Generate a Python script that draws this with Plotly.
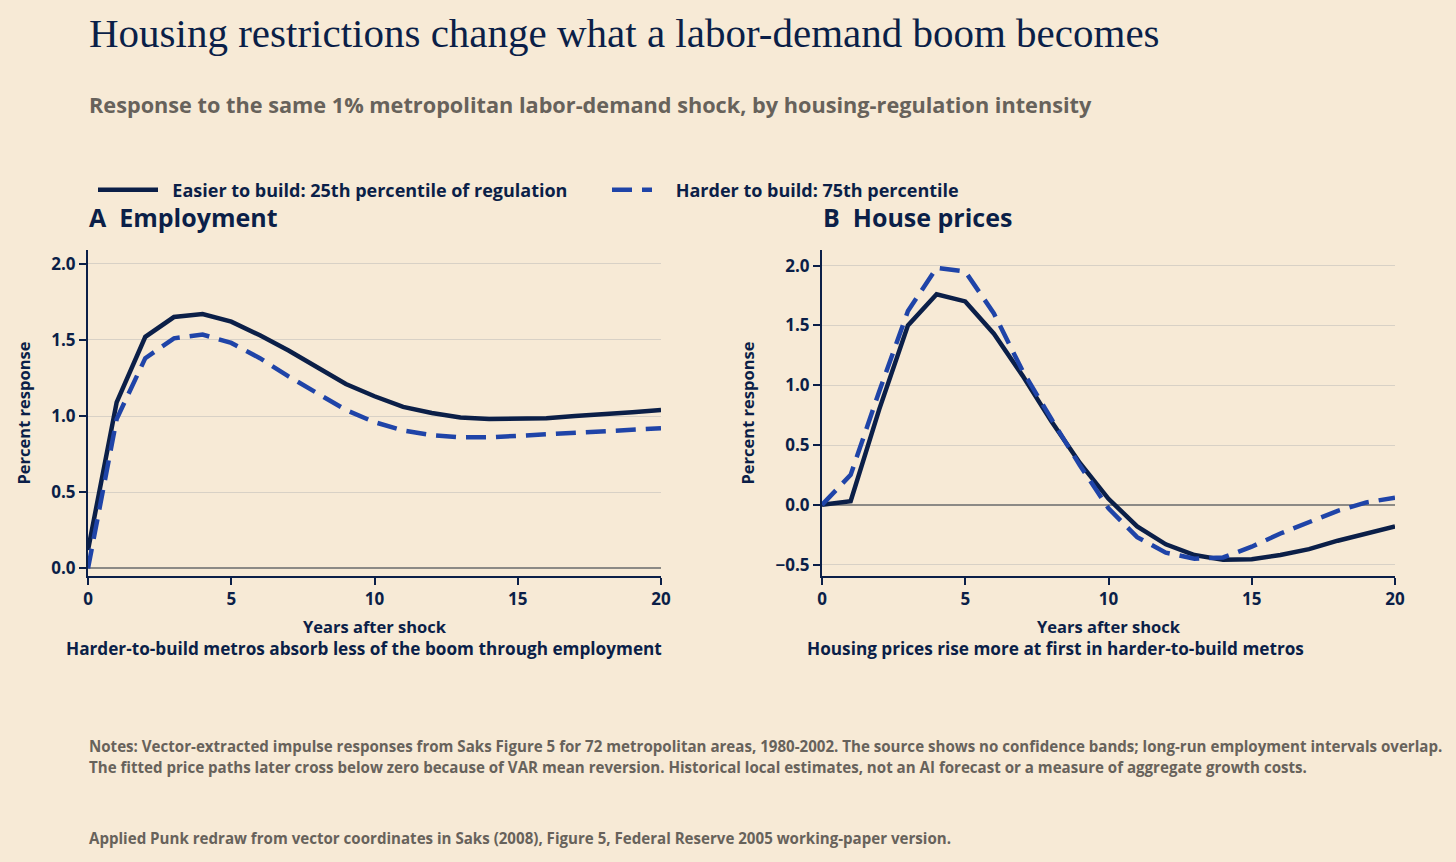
import plotly.graph_objects as go

years = list(range(0, 21))

emp_easier = [0.12, 1.09, 1.52, 1.65, 1.67, 1.62, 1.53, 1.43, 1.32, 1.21, 1.13,
              1.06, 1.02, 0.99, 0.98, 0.98, 0.985, 1.0, 1.01, 1.025, 1.04]
emp_harder = [0.0, 0.98, 1.38, 1.51, 1.535, 1.48, 1.38, 1.26, 1.15, 1.04, 0.96,
              0.905, 0.875, 0.86, 0.86, 0.87, 0.88, 0.895, 0.905, 0.915, 0.92]

price_easier = [0.0, 0.03, 0.8, 1.5, 1.76, 1.70, 1.43, 1.08, 0.7, 0.35, 0.05,
                -0.18, -0.33, -0.42, -0.46, -0.455, -0.42, -0.37, -0.30, -0.24, -0.18]
price_harder = [0.0, 0.25, 0.95, 1.62, 1.98, 1.95, 1.60, 1.12, 0.72, 0.33, -0.03,
                -0.27, -0.40, -0.45, -0.44, -0.35, -0.24, -0.14, -0.05, 0.02, 0.06]

x_ticks = [0, 5, 10, 15, 20]
emp_yticks = [0.0, 0.5, 1.0, 1.5, 2.0]
price_yticks = [-0.5, 0.0, 0.5, 1.0, 1.5, 2.0]

name_easier = "Easier to build: 25th percentile of regulation"
name_harder = "Harder to build: 75th percentile"

BG = "#F7EAD6"
NAVY = "#0B1F48"
BLUE = "#1F44A8"
GRAY = "#67625B"
GRID = "#D8D1C6"
SANS = "'Open Sans', Lato, sans-serif"
SERIF = "'Liberation Serif', 'DejaVu Serif', serif"
DASH = "20px,10px"

W, H = 1456, 862


def xp(px):
    return px / W


def yp(py):
    return 1 - py / H


fig = go.Figure()

fig.add_trace(go.Scatter(x=years, y=emp_easier, mode="lines",
                         name="&nbsp;&nbsp;" + name_easier,
                         line=dict(color=NAVY, width=4.5), xaxis="x", yaxis="y",
                         legend="legend"))
fig.add_trace(go.Scatter(x=years, y=emp_harder, mode="lines",
                         name="&nbsp;&nbsp;&nbsp;&nbsp;" + name_harder,
                         line=dict(color=BLUE, width=4.5, dash=DASH),
                         xaxis="x", yaxis="y", legend="legend2"))
fig.add_trace(go.Scatter(x=years, y=price_easier, mode="lines", name=name_easier,
                         line=dict(color=NAVY, width=4.5), xaxis="x2", yaxis="y2",
                         showlegend=False))
fig.add_trace(go.Scatter(x=years, y=price_harder, mode="lines", name=name_harder,
                         line=dict(color=BLUE, width=4.5, dash=DASH),
                         xaxis="x2", yaxis="y2", showlegend=False))

tickfont = dict(family=SANS, size=17, color=NAVY, weight="bold")
titlefont = dict(family=SANS, size=16.5, color=NAVY, weight="bold")

xcommon = dict(range=[0, 20], tickvals=x_ticks, showgrid=False, zeroline=False,
               showline=True, linecolor=NAVY, linewidth=2, ticks="outside",
               tickcolor=NAVY, ticklen=7, tickwidth=2, tickfont=tickfont,
               automargin=False,
               title=dict(text="Years after shock", font=titlefont, standoff=12))
ycommon = dict(showgrid=True, gridcolor=GRID, gridwidth=1.2, zeroline=True,
               zerolinecolor="#8C8A86", zerolinewidth=1.5, showline=True,
               linecolor=NAVY, linewidth=2, ticks="outside", tickcolor=NAVY,
               ticklen=7, tickwidth=2, tickfont=tickfont, tickformat=".1f",
               automargin=False,
               title=dict(text="Percent response", font=titlefont, standoff=17))

legfont = dict(family=SANS, size=18, color=NAVY, weight="bold")
PLOT_TOP, PLOT_BOT = 250, 576
fig.update_layout(
    width=W, height=H,
    paper_bgcolor=BG, plot_bgcolor=BG,
    margin=dict(l=0, r=0, t=0, b=0, autoexpand=False),
    showlegend=True,
    legend=dict(orientation="h", x=xp(93), y=yp(190), xanchor="left", yanchor="middle",
                font=legfont, bgcolor="rgba(0,0,0,0)", itemwidth=60),
    legend2=dict(orientation="h", x=xp(607), y=yp(190), xanchor="left", yanchor="middle",
                 font=legfont, bgcolor="rgba(0,0,0,0)", itemwidth=40),
    xaxis=dict(domain=[xp(88), xp(661)], anchor="y", **xcommon),
    yaxis=dict(domain=[yp(PLOT_BOT), yp(PLOT_TOP)], anchor="x", range=[-0.05, 2.09],
               tickvals=emp_yticks, **ycommon),
    xaxis2=dict(domain=[xp(822), xp(1395)], anchor="y2", **xcommon),
    yaxis2=dict(domain=[yp(PLOT_BOT), yp(PLOT_TOP)], anchor="x2", range=[-0.595, 2.13],
                tickvals=price_yticks, **ycommon),
)

ann = [
    dict(text="Housing restrictions change what a labor-demand boom becomes",
         x=87, y=33, font=dict(family=SERIF, size=41, color=NAVY)),
    dict(text="Response to the same 1% metropolitan labor-demand shock, by housing-regulation intensity",
         x=87, y=104, font=dict(family=SANS, size=21.7, color=GRAY, weight="bold")),
    dict(text="A&nbsp;&nbsp;Employment", x=87, y=217,
         font=dict(family=SANS, size=25, color=NAVY, weight="bold")),
    dict(text="B&nbsp;&nbsp;House prices", x=821, y=217,
         font=dict(family=SANS, size=25, color=NAVY, weight="bold")),
    dict(text="Notes: Vector-extracted impulse responses from Saks Figure 5 for 72 metropolitan areas, 1980-2002. The source shows no confidence bands; long-run employment intervals overlap.",
         x=87, y=746, font=dict(family=SANS, size=15.1, color=GRAY, weight="bold")),
    dict(text="The fitted price paths later cross below zero because of VAR mean reversion. Historical local estimates, not an AI forecast or a measure of aggregate growth costs.",
         x=87, y=767, font=dict(family=SANS, size=15.1, color=GRAY, weight="bold")),
    dict(text="Applied Punk redraw from vector coordinates in Saks (2008), Figure 5, Federal Reserve 2005 working-paper version.",
         x=87, y=838, font=dict(family=SANS, size=15.1, color=GRAY, weight="bold")),
]
annotations = []
for a in ann:
    annotations.append(dict(text=a["text"], x=xp(a["x"]), y=yp(a["y"]),
                            xref="paper", yref="paper", xanchor="left", yanchor="middle",
                            showarrow=False, font=a["font"]))

annotations.append(dict(text="Harder-to-build metros absorb less of the boom through employment",
                        x=xp((66 + 661) / 2), y=yp(648), xref="paper", yref="paper",
                        xanchor="center", yanchor="middle", showarrow=False,
                        font=dict(family=SANS, size=17.2, color=NAVY, weight="bold")))
annotations.append(dict(text="Housing prices rise more at first in harder-to-build metros",
                        x=xp(805), y=yp(648), xref="paper", yref="paper",
                        xanchor="left", yanchor="middle", showarrow=False,
                        font=dict(family=SANS, size=17.2, color=NAVY, weight="bold")))
fig.update_layout(annotations=annotations)

fig.write_html("out.html", config={"displayModeBar": False},
               post_script="document.body.style.margin='0';document.body.style.overflow='hidden';")
